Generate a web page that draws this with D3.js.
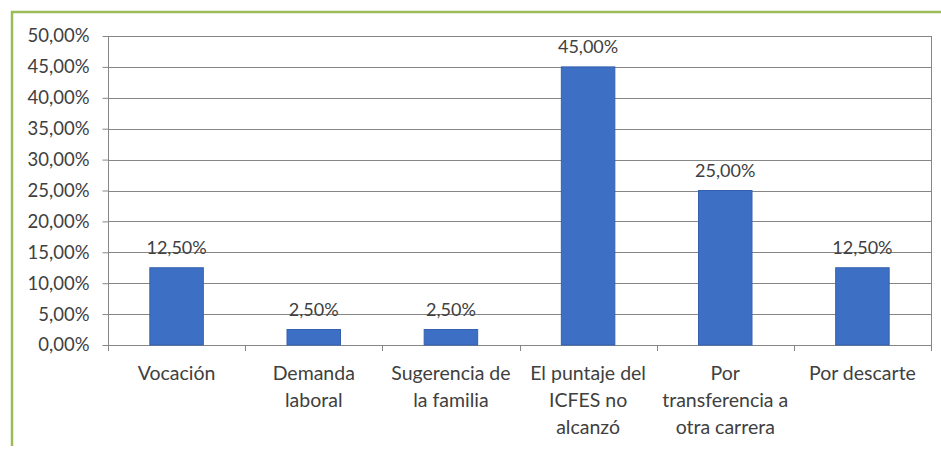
<!DOCTYPE html>
<html>
<head>
<meta charset="utf-8">
<script src="https://cdn.jsdelivr.net/npm/d3@7"></script>
<style>
  body { margin: 0; background: #fff; }
  text { font-family: Lato, "Open Sans", sans-serif; fill: #404040; }
  .axis path { display: none; }
  .axis text { font-size: 18.5px; fill: #404040; }
</style>
</head>
<body>
<div id="chart"></div>
<script>
// categories (tick labels split as in the original) and values in percent
var categories = ["Vocación", "Demanda laboral", "Sugerencia de la familia",
  "El puntaje del ICFES no alcanzó", "Por transferencia a otra carrera", "Por descarte"];
var categoryLines = [
  ["Vocación"],
  ["Demanda", "laboral"],
  ["Sugerencia de", "la familia"],
  ["El puntaje del", "ICFES no", "alcanzó"],
  ["Por", "transferencia a", "otra carrera"],
  ["Por descarte"]
];
var values = [12.5, 2.5, 2.5, 45, 25, 12.5];
var yTicks = [0, 5, 10, 15, 20, 25, 30, 35, 40, 45, 50];

var width = 941, height = 449;
var margin = {top: 36, right: 10, bottom: 104, left: 108};

var svg = d3.select("#chart").append("svg")
  .attr("width", width)
  .attr("height", height);

// green frame of the figure
svg.append("line").attr("x1", 11).attr("x2", width).attr("y1", 12).attr("y2", 12)
  .style("stroke", "#9bbb59").style("stroke-width", 2.5);
svg.append("line").attr("x1", 12).attr("x2", 12).attr("y1", 11).attr("y2", 446)
  .style("stroke", "#9bbb59").style("stroke-width", 2.5);

var x = d3.scaleBand()
  .domain(categories)
  .range([margin.left, width - margin.right])
  .paddingInner(0.61)
  .paddingOuter(0.305);

var y = d3.scaleLinear()
  .domain([0, 50])
  .range([height - margin.bottom, margin.top]);

var fmt = function(v) { return d3.format(".2f")(v).replace(".", ",") + "%"; };

// gridlines
svg.append("g")
  .selectAll("line")
  .data(yTicks)
  .enter().append("line")
  .attr("x1", margin.left)
  .attr("x2", width - margin.right)
  .attr("y1", d => Math.round(y(d)) + 0.5)
  .attr("y2", d => Math.round(y(d)) + 0.5)
  .style("stroke", "#868686")
  .style("stroke-width", 1.2);

// right border of plot area
svg.append("line")
  .attr("x1", width - margin.right + 0.5).attr("x2", width - margin.right + 0.5)
  .attr("y1", y(50)).attr("y2", y(0))
  .style("stroke", "#868686");

// y axis
var yAxis = d3.axisLeft(y)
  .tickValues(yTicks)
  .tickSize(6)
  .tickPadding(13)
  .tickFormat(fmt);

var gy = svg.append("g")
  .attr("class", "axis")
  .attr("transform", `translate(${margin.left + 0.5},0)`)
  .call(yAxis);
gy.selectAll(".tick line").style("stroke", "#868686");
gy.append("line").attr("y1", y(50)).attr("y2", y(0)).style("stroke", "#868686");

// x axis boundary ticks
var bounds = d3.range(categories.length + 1).map(i => margin.left + i * (width - margin.left - margin.right) / categories.length);
svg.append("g")
  .selectAll("line")
  .data(bounds)
  .enter().append("line")
  .attr("x1", d => Math.round(d) + 0.5)
  .attr("x2", d => Math.round(d) + 0.5)
  .attr("y1", y(0))
  .attr("y2", y(0) + 6)
  .style("stroke", "#868686");

// bars
svg.selectAll("rect.bar")
  .data(values)
  .enter().append("rect")
  .attr("class", "bar")
  .attr("x", (d, i) => x(categories[i]))
  .attr("width", x.bandwidth())
  .attr("y", d => y(d))
  .attr("height", d => y(0) - y(d))
  .style("fill", "#3d70c4")
  .style("stroke", "#3560b0")
  .style("stroke-width", 1);

// value labels
svg.selectAll("text.valueLabel")
  .data(values)
  .enter().append("text")
  .attr("class", "valueLabel")
  .attr("x", (d, i) => x(categories[i]) + x.bandwidth() / 2)
  .attr("y", d => y(d) - 14)
  .style("text-anchor", "middle")
  .style("font-size", "18px")
  .text(d => fmt(d));

// category labels
var catG = svg.selectAll("text.catLabel")
  .data(categoryLines)
  .enter().append("text")
  .attr("class", "catLabel")
  .attr("x", (d, i) => x(categories[i]) + x.bandwidth() / 2)
  .attr("y", y(0) + 35)
  .style("text-anchor", "middle")
  .style("font-size", "19.5px");

catG.each(function(lines, i) {
  var t = d3.select(this);
  lines.forEach(function(l, j) {
    t.append("tspan")
      .attr("x", x(categories[i]) + x.bandwidth() / 2)
      .attr("dy", j == 0 ? 0 : 27)
      .text(l);
  });
});
</script>
</body>
</html>
